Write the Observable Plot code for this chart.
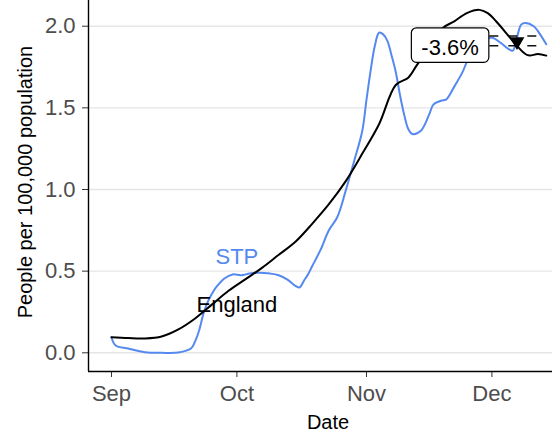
<!DOCTYPE html>
<html>
<head>
<meta charset="utf-8">
<script src="https://cdn.jsdelivr.net/npm/d3@7"></script>
<script src="https://cdn.jsdelivr.net/npm/@observablehq/plot@0.6"></script>
<style>
  html, body { margin: 0; padding: 0; background: white; overflow: hidden; }
  #chart { width: 567px; }
  #chart svg { display: block; margin-top: -8px; max-width: none !important; width: 567px !important; height: 440px !important; }
</style>
</head>
<body>
<div id="chart"></div>
<script>
// ---- data ----
const englandDates = ["2020-09-01","2020-09-05","2020-09-09","2020-09-13","2020-09-17","2020-09-21","2020-09-25","2020-09-29",
  "2020-10-03","2020-10-07","2020-10-11","2020-10-15","2020-10-19","2020-10-23","2020-10-27","2020-10-31",
  "2020-11-04","2020-11-08","2020-11-11","2020-11-13","2020-11-16","2020-11-19","2020-11-22","2020-11-25","2020-11-28","2020-11-30",
  "2020-12-02","2020-12-05","2020-12-07","2020-12-09","2020-12-10","2020-12-12","2020-12-14"];
const englandValues = [0.095,0.09,0.088,0.10,0.143,0.21,0.295,0.38,
  0.45,0.52,0.60,0.68,0.79,0.91,1.05,1.22,
  1.40,1.64,1.685,1.76,1.87,1.985,2.03,2.08,2.10,2.08,
  2.03,1.94,1.88,1.83,1.82,1.83,1.82];

const stpDates = ["2020-09-01","2020-09-02","2020-09-05","2020-09-09","2020-09-13","2020-09-17","2020-09-20","2020-09-21","2020-09-22",
  "2020-09-23","2020-09-24","2020-09-25","2020-09-26","2020-09-28","2020-09-30","2020-10-02","2020-10-04","2020-10-06","2020-10-09",
  "2020-10-11","2020-10-13","2020-10-15","2020-10-16","2020-10-17","2020-10-18","2020-10-19","2020-10-21","2020-10-23","2020-10-25",
  "2020-10-27","2020-10-29","2020-10-31","2020-11-01","2020-11-02","2020-11-03","2020-11-04","2020-11-05","2020-11-06","2020-11-07",
  "2020-11-08","2020-11-09","2020-11-10","2020-11-11","2020-11-12","2020-11-14","2020-11-16","2020-11-17","2020-11-19","2020-11-20",
  "2020-11-22","2020-11-24","2020-11-25","2020-11-27","2020-11-29","2020-12-01","2020-12-03","2020-12-05","2020-12-06","2020-12-07",
  "2020-12-08","2020-12-09","2020-12-11","2020-12-12","2020-12-14"];
const stpValues = [0.094,0.045,0.026,0.004,0.0,0.002,0.026,0.07,0.14,
  0.24,0.31,0.36,0.40,0.455,0.48,0.475,0.485,0.49,0.485,
  0.475,0.45,0.41,0.40,0.44,0.48,0.53,0.63,0.75,0.83,
  0.99,1.17,1.36,1.55,1.73,1.88,1.96,1.95,1.91,1.82,
  1.72,1.58,1.46,1.37,1.34,1.36,1.46,1.52,1.545,1.55,
  1.63,1.72,1.78,1.86,1.91,1.93,1.90,1.86,1.85,1.93,
  2.01,2.02,2.00,1.97,1.89];

const seriesNames = ["STP", "England"];
const seriesLabelDates = ["2020-10-01", "2020-10-01"];
const seriesLabelValues = [0.59, 0.291];

const changeLabel = ["-3.6%"];
const changeDate = ["2020-11-21"];
const changeValue = [1.868];

const refLevels = [1.94, 1.88];
const refStart = "2020-11-30T12:00Z";
const refEnd = "2020-12-12";
const arrowDate = ["2020-12-07"];
const arrowValue = [1.906];

const monthTicks = ["2020-09-01","2020-10-01","2020-11-01","2020-12-01"];
const yTicks = [0, 0.5, 1.0, 1.5, 2.0];
const xDomain = ["2020-08-26T12:00Z", "2020-12-19T02:00Z"];
const yDomain = [-0.1145, 2.2064];

const xTitle = "Date";
const yTitle = "People per 100,000 population";

// ---- build ----
const D = s => new Date(s.length === 10 ? s + "T00:00Z" : s);
const england = englandDates.map((d, i) => ({date: D(d), value: englandValues[i]}));
const stp = stpDates.map((d, i) => ({date: D(d), value: stpValues[i]}));
const seriesLabels = seriesNames.map((n, i) => ({name: n, date: D(seriesLabelDates[i]), value: seriesLabelValues[i]}));
const change = changeLabel.map((t, i) => ({text: t, date: D(changeDate[i]), value: changeValue[i]}));
const refs = refLevels.map(v => ({x1: D(refStart), x2: D(refEnd), y: v}));
const arrow = arrowDate.map((d, i) => ({date: D(d), value: arrowValue[i]}));

const blue = "#5589f0";

const chart = Plot.plot({
  width: 567,
  height: 440,
  marginLeft: 88,
  marginRight: 0,
  marginTop: 0,
  marginBottom: 61,
  style: {fontFamily: "'Liberation Sans', Arial, sans-serif", background: "white", maxWidth: "none"},
  x: {type: "utc", domain: xDomain.map(D)},
  y: {domain: yDomain},
  marks: [
    Plot.gridY(yTicks, {stroke: "#e6e6e6", strokeOpacity: 1, strokeWidth: 1.4}),
    Plot.axisY(yTicks, {tickSize: 6, tickPadding: 7, fontSize: 22, fill: "#4d4d4d", stroke: "#333", tickFormat: d3.format(".1f"), label: null}),
    Plot.axisX(monthTicks.map(D), {tickSize: 6, tickPadding: 8, fontSize: 22, fill: "#4d4d4d", stroke: "#333", tickFormat: d3.utcFormat("%b"), label: null}),
    Plot.ruleX([D(xDomain[0])], {stroke: "black", strokeWidth: 1.4}),
    Plot.ruleY([yDomain[0]], {stroke: "black", strokeWidth: 1.4}),
    Plot.line(stp, {x: "date", y: "value", stroke: blue, strokeWidth: 2, curve: "catmull-rom"}),
    Plot.line(england, {x: "date", y: "value", stroke: "black", strokeWidth: 2, curve: "catmull-rom"}),
    Plot.ruleY(refs, {x1: "x1", x2: "x2", y: "y", stroke: "#111", strokeWidth: 1.5, strokeDasharray: "9,10"}),
    Plot.dot(arrow, {x: "date", y: "value", symbol: "triangle", rotate: 180, r: 5.5, fill: "black", stroke: "none"}),
    Plot.text(seriesLabels, {x: "date", y: "value", text: "name", fontSize: 22, fill: (d) => d.name === "STP" ? blue : "black"}),
    Plot.text(change, {x: "date", y: "value", text: "text", fontSize: 22, fill: "black", className: "pct-label"}),
    Plot.text([xTitle], {frameAnchor: "bottom", textAnchor: "middle", lineAnchor: "middle", dy: 51, fontSize: 20, fill: "black"}),
    Plot.text([yTitle], {frameAnchor: "left", textAnchor: "middle", lineAnchor: "middle", rotate: -90, dx: -62.7, fontSize: 20, fill: "black"})
  ]
});
document.getElementById("chart").append(chart);

// rounded white box behind the percentage label
d3.select(chart).selectAll("g.pct-label text").each(function () {
  const b = this.getBBox();
  const padX = 10, padTop = 7, padBottom = 2.5;
  d3.select(this.parentNode).insert("rect", () => this)
    .attr("transform", this.getAttribute("transform"))
    .attr("x", b.x - padX).attr("y", b.y - padTop)
    .attr("width", b.width + 2 * padX).attr("height", b.height + padTop + padBottom)
    .attr("rx", 5).attr("ry", 5)
    .attr("fill", "white").attr("stroke", "black").attr("stroke-width", 1.2);
});
</script>
</body>
</html>
